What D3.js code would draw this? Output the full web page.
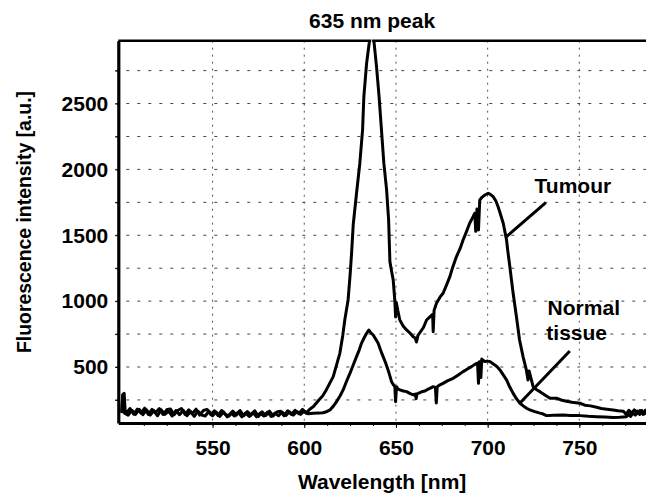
<!DOCTYPE html>
<html>
<head>
<meta charset="utf-8">
<script src="https://cdn.jsdelivr.net/npm/d3@7"></script>
<style>
  html, body { margin: 0; padding: 0; background: #fff; }
  svg { display: block; }
  text { font-family: "Liberation Sans", Arial, sans-serif; font-weight: bold; fill: #000; }
</style>
</head>
<body>
<svg id="chart" width="646" height="495"></svg>
<script>
// Fluorescence spectra, [wavelength nm, intensity a.u.]
const tumourSpectrum = [
  [500.5,160],[501,290],[501.8,300],[502.3,175],[503,150],[505,185],[507,142],[509,180],[511,150],
  [513,188],[515,140],[517,178],[519,155],[521,185],[523,140],[525,175],[527,182],[529,138],
  [531,170],[533,185],[535,140],[537,175],[539,148],[541,180],[543,135],[545,170],[547,178],
  [549,138],[551,168],[553,132],[555,170],[557,140],[559,128],[561,165],[563,135],[565,170],
  [567,130],[569,162],[571,135],[573,168],[575,125],[577,160],[579,132],[581,165],[583,128],
  [585,158],[587,165],[589,130],[591,168],[593,140],[595,172],[597,145],[599,178],[601,150],
  [603,180],[605,200],[608,250],[610,280],[612,326],[614,380],[615.8,427],[617.5,510],
  [619.4,604],[621,740],[622.1,857],[623.9,1009],[625,1200],[625.8,1363],[626.7,1580],
  [628.5,1819],[630.3,2047],[631.8,2300],[632.5,2553],[634,2806],[635.4,2958],[636.2,3080],
  [637.2,3080],[638.1,2958],[639.4,2780],[640.8,2553],[642.1,2300],[643.4,2047],[644.9,1844],
  [646,1616],[646.7,1300],[647.5,1237],[648.5,1161],[649.4,1000],[649.8,880],[650.2,990],
  [651,930],[652.1,857],[654,810],[655.8,781],[657.5,760],[659.4,730],[660.5,720],[661.2,690],
  [662,740],[663,760],[665,800],[666.7,857],[668.5,880],[670,900],[670.3,768],[670.8,930],
  [672.1,984],[674,1030],[675.7,1060],[677.5,1120],[679.4,1186],[681,1260],[683,1338],
  [685,1400],[686.6,1464],[688.5,1530],[690.2,1591],[692,1640],[693,1667],[693.5,1530],
  [694.2,1700],[695,1540],[695.7,1768],[697,1790],[698.5,1806],[700.3,1819],[701.5,1810],
  [703,1793],[704.5,1760],[705.7,1717],[707,1660],[708.5,1591],[710.3,1464],[711,1380],
  [712.1,1262],[713,1160],[713.9,1060],[715.7,882],[717.4,705],[719.3,579],[721.1,478],
  [722,402],[722.6,470],[724.8,351],[726.5,330],[728.5,313],[731,290],[734,263],[737.6,263],
  [740,250],[743,240],[746,232],[750.3,225],[753,210],[756,205],[759.4,194],[762,185],
  [765,180],[768.4,174],[771,168],[774,165],[775.5,140],[777,172],[778.5,150],[780,175],
  [781.5,145],[783,170],[784.8,140],[786,172],[788,150]
];

const normalSpectrum = [
  [500.5,150],[501,280],[502,150],[504,135],[506,172],[508,140],[510,178],[512,138],[514,175],
  [516,135],[518,168],[520,130],[522,175],[524,140],[526,165],[528,128],[530,170],[532,138],
  [534,172],[536,130],[538,160],[540,125],[542,165],[544,135],[546,128],[548,165],[550,130],
  [552,158],[554,125],[556,160],[558,122],[560,150],[562,128],[564,158],[566,122],[568,150],
  [570,125],[572,155],[574,122],[576,150],[578,128],[580,158],[582,125],[584,150],[586,130],
  [588,158],[590,132],[592,160],[594,135],[596,162],[598,140],[600,165],[602,145],[605,149],
  [608,150],[610.3,153],[612,160],[614,174],[616,205],[617.6,237],[619.5,280],[621.2,326],
  [623,390],[624.9,452],[626.7,515],[628.5,579],[630,630],[631.2,680],[632.6,720],[634,756],
  [635.2,781],[636.3,760],[637.6,743],[639,710],[640.3,680],[641.6,630],[643,579],[644.4,530],
  [645.7,478],[647.6,389],[648.6,365],[649.4,351],[649.8,237],[650.3,351],[651,335],
  [652.1,326],[654,318],[655.8,313],[657.5,300],[659.4,288],[660.5,295],[661,260],[661.5,298],
  [662.1,300],[664,312],[665.8,318],[667,328],[668.5,338],[670.3,351],[671.5,345],[672,227],
  [672.5,350],[674,365],[675.7,376],[678,395],[681.2,414],[684,440],[686.6,465],[689,485],
  [691.2,503],[693,520],[694.5,530],[695,376],[695.5,540],[696.3,420],[696.8,560],[698.5,541],
  [700,545],[701.2,541],[703.9,516],[705.3,500],[706.7,478],[708.5,440],[710.3,402],[712,350],
  [713.9,300],[715.7,260],[717.6,225],[719.4,205],[721.2,187],[723,175],[725.7,161],
  [728.5,150],[730,145],[732.1,131],[736,134],[741.2,136],[745,132],[750.3,131],[755,126],
  [759.4,123],[764,120],[768.4,116],[772,118],[775.7,123],[777,140],[778,125],[779,150],
  [780.5,135],[781.5,165],[783,140],[784,170],[785.5,145],[788,174]
];

const xTickValues = [550, 600, 650, 700, 750];
const yTickValues = [500, 1000, 1500, 2000, 2500];
const yGridValues = [250, 500, 750, 1000, 1250, 1500, 1750, 2000, 2250, 2500, 2750];

// Annotations in data coordinates
const labels = [
  { text: "Tumour", nm: 725.6, value: 1821 },
  { text: "Normal", nm: 732.7, value: 895 },
  { text: "tissue", nm: 732, value: 705 }
];
const pointers = [
  { from: [731.7, 1748], to: [709.9, 1485] },
  { from: [744.8, 622], to: [717.5, 225] }
];
const peakLabel = { text: "635 nm peak", nm: 637 };

const svg = d3.select("#chart");

const x = d3.scaleLinear().domain([498.6, 790]).range([118.3, 652.7]);
const y = d3.scaleLinear().domain([75, 2977]).range([423, 40.7]);
const [x0, x1] = x.range();
const [yb, yt] = y.range();
const fmt = d3.format("d");

svg.append("defs").append("clipPath").attr("id", "plot-clip")
  .append("rect").attr("x", x0).attr("y", yt).attr("width", x1 - x0).attr("height", yb - yt);

// grid
const grid = svg.append("g");
grid.selectAll("line.h").data(yGridValues).join("line")
  .attr("x1", x0 - 3).attr("x2", x1)
  .attr("y1", d => y(d)).attr("y2", d => y(d))
  .attr("stroke", "#444").attr("stroke-width", 1).attr("stroke-dasharray", "3,8");
grid.selectAll("line.v").data(xTickValues).join("line")
  .attr("x1", d => x(d)).attr("x2", d => x(d))
  .attr("y1", yt).attr("y2", yb)
  .attr("stroke", "#555").attr("stroke-width", 1).attr("stroke-dasharray", "2,5");

// curves
const line = d3.line().x(d => x(d[0])).y(d => y(d[1]));
const curves = svg.append("g").attr("clip-path", "url(#plot-clip)");
[normalSpectrum, tumourSpectrum].forEach(s => {
  curves.append("path").datum(s).attr("d", line)
    .attr("fill", "none").attr("stroke", "#000").attr("stroke-width", 3)
    .attr("stroke-linejoin", "round");
});

// frame: top edge, broken where the tumour peak runs off scale
svg.append("line").attr("x1", x0).attr("x2", x1).attr("y1", yt).attr("y2", yt)
  .attr("stroke", "#000").attr("stroke-width", 2.5);
const yMax = y.domain()[1];
function crossing(a, b) {
  return a[0] + (yMax - a[1]) / (b[1] - a[1]) * (b[0] - a[0]);
}
let rise = null, fall = null;
for (let i = 1; i < tumourSpectrum.length; i++) {
  const a = tumourSpectrum[i - 1], b = tumourSpectrum[i];
  if (a[1] <= yMax && b[1] > yMax && rise === null) rise = crossing(a, b);
  if (a[1] > yMax && b[1] <= yMax) fall = crossing(a, b);
}
if (rise !== null && fall !== null) {
  svg.append("line").attr("x1", x(rise) + 1.8).attr("x2", x(fall) - 1.8)
    .attr("y1", yt).attr("y2", yt).attr("stroke", "#fff").attr("stroke-width", 3);
}

// x axis
const xMinor = d3.range(512.5, 790, 12.5);
svg.append("g").attr("transform", `translate(0,${yb})`)
  .call(d3.axisBottom(x).tickValues(xMinor).tickSize(3).tickSizeOuter(0).tickFormat(""))
  .call(g => g.select(".domain").remove())
  .call(g => g.selectAll(".tick line").attr("stroke", "#000"));
const xAxis = svg.append("g").attr("transform", `translate(0,${yb})`)
  .call(d3.axisBottom(x).tickValues(xTickValues).tickSize(5).tickSizeOuter(0).tickPadding(12).tickFormat(fmt))
  .call(g => g.select(".domain").attr("stroke", "#000").attr("stroke-width", 3.2))
  .call(g => g.selectAll(".tick line").attr("stroke", "#000"));
xAxis.selectAll(".tick text").attr("font-size", 21).attr("fill", "#000")
  .attr("font-family", "Liberation Sans, Arial, sans-serif").attr("font-weight", "bold");

// y axis
svg.append("g").attr("transform", `translate(${x0},0)`)
  .call(d3.axisLeft(y).tickValues(yGridValues).tickSize(3).tickSizeOuter(0).tickFormat(""))
  .call(g => g.select(".domain").remove())
  .call(g => g.selectAll(".tick line").attr("stroke", "#000"));
const yAxis = svg.append("g").attr("transform", `translate(${x0},0)`)
  .call(d3.axisLeft(y).tickValues(yTickValues).tickSize(0).tickSizeOuter(0).tickPadding(10).tickFormat(fmt))
  .call(g => g.select(".domain").attr("stroke", "#000").attr("stroke-width", 3.2));
yAxis.selectAll(".tick text").attr("font-size", 21).attr("fill", "#000")
  .attr("font-family", "Liberation Sans, Arial, sans-serif").attr("font-weight", "bold");

// axis titles
svg.append("text").attr("x", (x0 + 646) / 2).attr("y", 489)
  .attr("text-anchor", "middle").attr("font-size", 21).text("Wavelength [nm]");
svg.append("text").attr("transform", `translate(31,222) rotate(-90)`)
  .attr("text-anchor", "middle").attr("font-size", 21)
  .attr("textLength", 262).attr("lengthAdjust", "spacingAndGlyphs")
  .text("Fluorescence intensity [a.u.]");

// peak label
svg.append("text").attr("x", x(peakLabel.nm)).attr("y", 28)
  .attr("text-anchor", "middle").attr("font-size", 21).text(peakLabel.text);

// series labels and pointers
svg.selectAll("text.lbl").data(labels).join("text")
  .attr("x", d => x(d.nm)).attr("y", d => y(d.value))
  .attr("font-size", 21).text(d => d.text);
svg.selectAll("line.ptr").data(pointers).join("line")
  .attr("x1", d => x(d.from[0])).attr("y1", d => y(d.from[1]))
  .attr("x2", d => x(d.to[0])).attr("y2", d => y(d.to[1]))
  .attr("stroke", "#000").attr("stroke-width", 3);
</script>
</body>
</html>
